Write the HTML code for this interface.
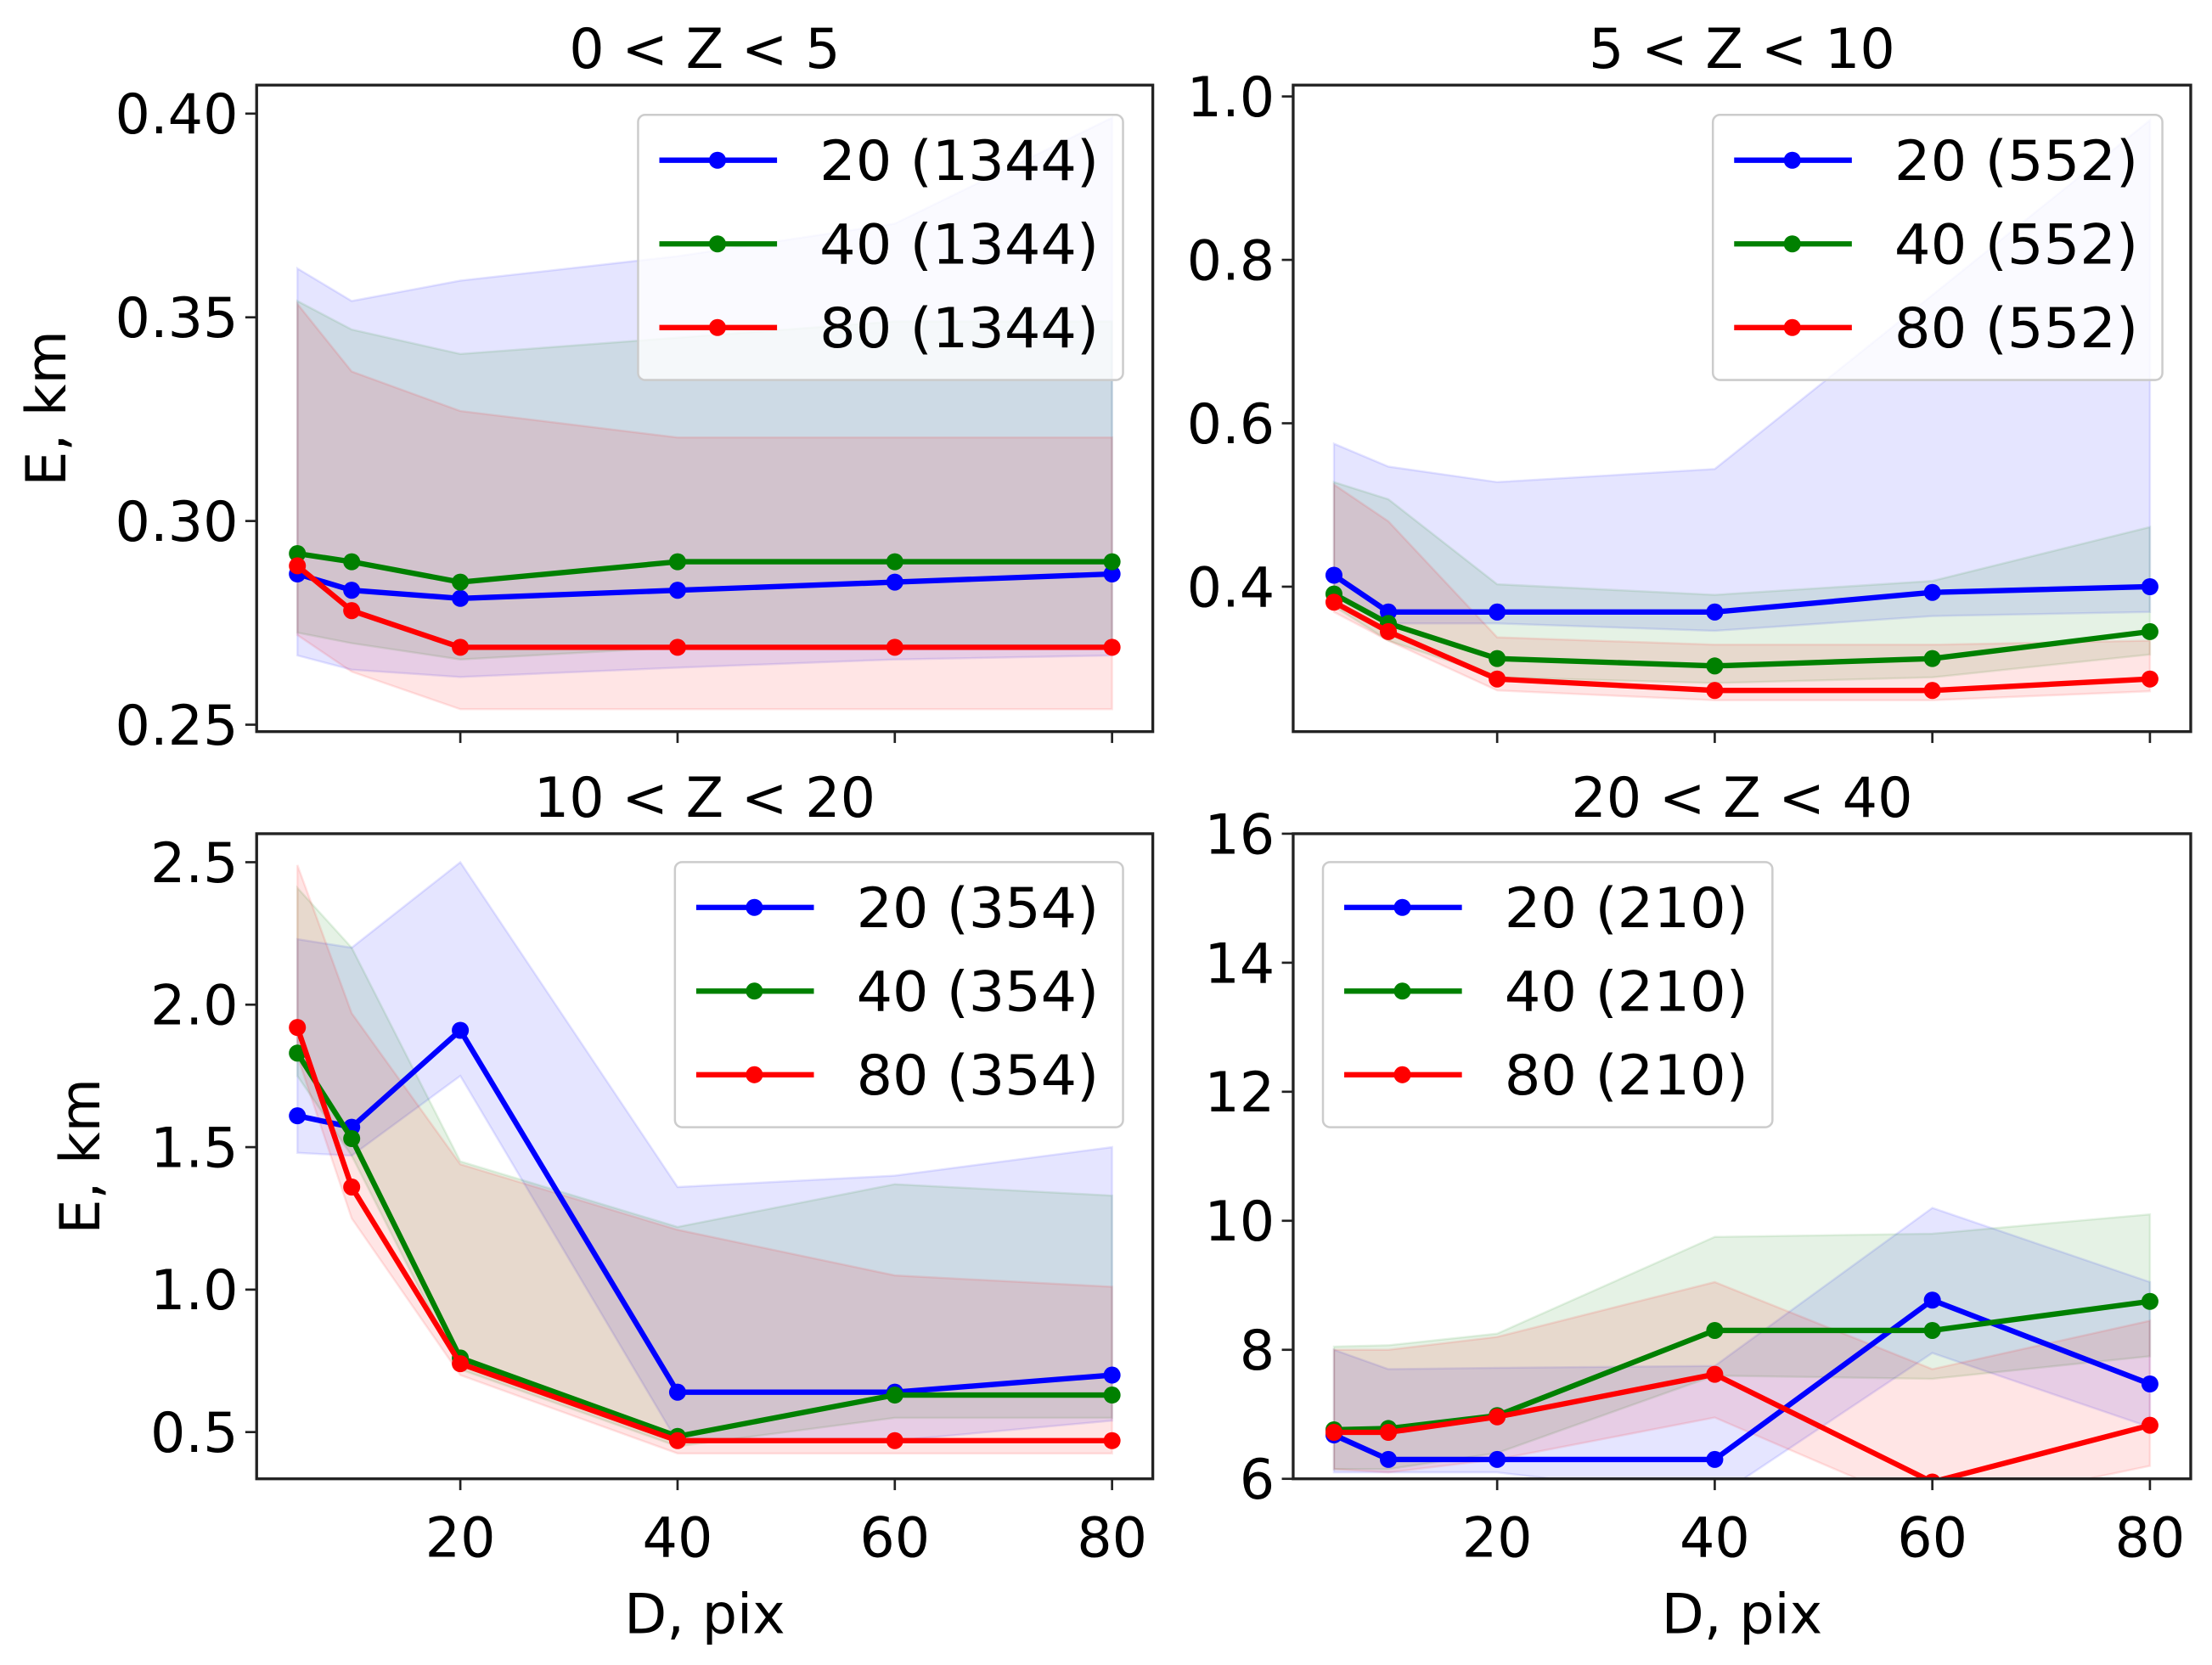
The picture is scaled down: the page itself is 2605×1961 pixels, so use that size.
<!DOCTYPE html>
<html><head><meta charset="utf-8"><style>
html,body{margin:0;padding:0;background:#fff;}
svg{display:block;}
text{font-family:"DejaVu Sans","Liberation Sans",sans-serif;fill:#000;}
</style></head><body>
<svg id="fig" width="2605" height="1961" viewBox="0 0 1560 1174.3" xmlns="http://www.w3.org/2000/svg"></svg>
<script>
const xValues = [5, 10, 20, 40, 60, 80];
const xTicks = [20, 40, 60, 80];
const seriesNames = ["20", "40", "80"];
const seriesColors = ["#0000ff", "#008000", "#ff0000"];

const titles = ["0 < Z < 5", "5 < Z < 10", "10 < Z < 20", "20 < Z < 40"];
const counts = ["1344", "552", "354", "210"];

const yTicksP1 = ["0.25", "0.30", "0.35", "0.40"];
const yTicksP2 = ["0.4", "0.6", "0.8", "1.0"];
const yTicksP3 = ["0.5", "1.0", "1.5", "2.0", "2.5"];
const yTicksP4 = ["6", "8", "10", "12", "14", "16"];

// Panel 1 (0<Z<5)
const p1Blue = [0.287, 0.283, 0.281, 0.283, 0.285, 0.287];
const p1Green = [0.292, 0.290, 0.285, 0.290, 0.290, 0.290];
const p1Red = [0.289, 0.278, 0.269, 0.269, 0.269, 0.269];
const p1BlueHi = [0.362, 0.354, 0.359, 0.365, 0.373, 0.399];
const p1BlueLo = [0.267, 0.2635, 0.2617, 0.264, 0.266, 0.267];
const p1GreenHi = [0.354, 0.347, 0.341, 0.345, 0.349, 0.349];
const p1GreenLo = [0.2726, 0.270, 0.266, 0.269, 0.2695, 0.2695];
const p1RedHi = [0.3533, 0.3367, 0.327, 0.3205, 0.3205, 0.3205];
const p1RedLo = [0.272, 0.263, 0.2538, 0.2538, 0.2538, 0.2538];

// Panel 2 (5<Z<10)
const p2Blue = [0.414, 0.369, 0.369, 0.369, 0.393, 0.400];
const p2Green = [0.391, 0.355, 0.312, 0.303, 0.312, 0.345];
const p2Red = [0.381, 0.345, 0.287, 0.273, 0.273, 0.287];
const p2BlueHi = [0.575, 0.547, 0.528, 0.544, 0.757, 0.971];
const p2BlueLo = [0.390, 0.355, 0.355, 0.346, 0.364, 0.369];
const p2GreenHi = [0.528, 0.507, 0.403, 0.390, 0.407, 0.473];
const p2GreenLo = [0.376, 0.334, 0.289, 0.282, 0.289, 0.317];
const p2RedHi = [0.525, 0.480, 0.338, 0.329, 0.329, 0.334];
const p2RedLo = [0.369, 0.334, 0.273, 0.261, 0.261, 0.272];

// Panel 3 (10<Z<20)
const p3Blue = [1.61, 1.57, 1.91, 0.64, 0.64, 0.70];
const p3Green = [1.83, 1.53, 0.76, 0.485, 0.63, 0.63];
const p3Red = [1.92, 1.36, 0.74, 0.47, 0.47, 0.47];
const p3BlueHi = [2.23, 2.20, 2.50, 1.36, 1.40, 1.50];
const p3BlueLo = [1.48, 1.47, 1.75, 0.465, 0.47, 0.54];
const p3GreenHi = [2.41, 2.20, 1.45, 1.22, 1.37, 1.33];
const p3GreenLo = [1.75, 1.47, 0.72, 0.45, 0.55, 0.55];
const p3RedHi = [2.49, 1.97, 1.44, 1.21, 1.05, 1.01];
const p3RedLo = [1.82, 1.25, 0.70, 0.425, 0.425, 0.425];

// Panel 4 (20<Z<40)
const p4Blue = [6.68, 6.3, 6.3, 6.3, 8.77, 7.47];
const p4Green = [6.76, 6.78, 6.98, 8.3, 8.3, 8.75];
const p4Red = [6.72, 6.72, 6.96, 7.62, 5.95, 6.83];
const p4BlueHi = [8.0, 7.7, 7.72, 7.75, 10.2, 9.05];
const p4BlueLo = [6.1, 6.1, 6.1, 5.7, 7.95, 6.8];
const p4GreenHi = [8.05, 8.07, 8.25, 9.75, 9.8, 10.1];
const p4GreenLo = [6.15, 6.15, 6.4, 7.6, 7.55, 7.9];
const p4RedHi = [8.0, 8.0, 8.2, 9.05, 7.7, 8.45];
const p4RedLo = [6.15, 6.1, 6.3, 6.95, 5.5, 6.2];

const NS = "http://www.w3.org/2000/svg";
const svg = document.getElementById("fig");
function mk(tag, attrs, parent) {
  const e = document.createElementNS(NS, tag);
  for (const k in attrs) e.setAttribute(k, attrs[k]);
  (parent || svg).appendChild(e);
  return e;
}
const FS = 39;

const panels = [
  {box:[181,60,813,516], ylim:[0.2483,0.407], yt:yTicksP1, mid:[p1Blue,p1Green,p1Red], hi:[p1BlueHi,p1GreenHi,p1RedHi], lo:[p1BlueLo,p1GreenLo,p1RedLo], leg:[450,81,792,268], ylab:true, xlab:false},
  {box:[912,60,1545,516], ylim:[0.2226,1.0139], yt:yTicksP2, mid:[p2Blue,p2Green,p2Red], hi:[p2BlueHi,p2GreenHi,p2RedHi], lo:[p2BlueLo,p2GreenLo,p2RedLo], leg:[1208,81,1525,268], ylab:false, xlab:false},
  {box:[181,588,813,1043], ylim:[0.336,2.6], yt:yTicksP3, mid:[p3Blue,p3Green,p3Red], hi:[p3BlueHi,p3GreenHi,p3RedHi], lo:[p3BlueLo,p3GreenLo,p3RedLo], leg:[476,608,792,795], ylab:true, xlab:true},
  {box:[912,588,1545,1043], ylim:[6,16], yt:yTicksP4, mid:[p4Blue,p4Green,p4Red], hi:[p4BlueHi,p4GreenHi,p4RedHi], lo:[p4BlueLo,p4GreenLo,p4RedLo], leg:[933,608,1250,795], ylab:false, xlab:true}
];

panels.forEach((p, pi) => {
  const [x0,y0,x1,y1] = p.box;
  const xs = v => x0 + (v - 1.25) / (83.75 - 1.25) * (x1 - x0);
  const ys = v => y1 - (v - p.ylim[0]) / (p.ylim[1] - p.ylim[0]) * (y1 - y0);
  const g = mk("g", {});
  
  
  const cid = "clip" + pi;
  const cp = mk("clipPath", {id: cid}, g);
  mk("rect", {x:x0, y:y0, width:x1-x0, height:y1-y0}, cp);
  const plot = mk("g", {"clip-path": "url(#" + cid + ")"}, g);
  for (let s = 0; s < 3; s++) {
    let d = "";
    xValues.forEach((xv, i) => { d += (i ? "L" : "M") + xs(xv) + "," + ys(p.hi[s][i]); });
    for (let i = xValues.length - 1; i >= 0; i--) d += "L" + xs(xValues[i]) + "," + ys(p.lo[s][i]);
    d += "Z";
    const band = mk("path", {d: d, fill: seriesColors[s], "fill-opacity": 0.1, stroke: seriesColors[s], "stroke-opacity": 0.1, "stroke-width": 1.5}, plot);
    
    
  }
  for (let s = 0; s < 3; s++) {
    const pts = xValues.map((xv, i) => xs(xv) + "," + ys(p.mid[s][i])).join(" ");
    const line = mk("polyline", {points: pts, fill: "none", stroke: seriesColors[s], "stroke-width": 3.8, "stroke-linejoin": "round"}, plot);
    
    
    xValues.forEach((xv, i) => {
      const c = mk("circle", {cx: xs(xv), cy: ys(p.mid[s][i]), r: 6, fill: seriesColors[s]}, plot);
      
      
    });
  }
  const fr = mk("rect", {x:x0, y:y0, width:x1-x0, height:y1-y0, fill:"none", stroke:"#222", "stroke-width":2}, g);
  
  
  p.yt.forEach(t => {
    const y = ys(parseFloat(t));
    mk("line", {x1:x0-8, y1:y, x2:x0, y2:y, stroke:"#222", "stroke-width":1.6}, g);
    const tx = mk("text", {x:x0-13, y:y+14, "font-size":FS, "text-anchor":"end"}, g);
    tx.textContent = t;
    
    
  });
  xTicks.forEach(t => {
    const x = xs(t);
    mk("line", {x1:x, y1:y1, x2:x, y2:y1+8, stroke:"#222", "stroke-width":1.6}, g);
    if (p.xlab) {
      const tx = mk("text", {x:x, y:y1+55, "font-size":FS, "text-anchor":"middle"}, g);
      tx.textContent = t;
      
      
    }
  });
  const ti = mk("text", {x:(x0+x1)/2, y:y0-12, "font-size":FS, "text-anchor":"middle"}, g);
  ti.textContent = titles[pi];
  
  
  if (p.ylab) {
    const cx = pi === 0 ? 46 : 70, cy = (y0+y1)/2;
    const yl = mk("text", {x:cx, y:cy, "font-size":FS, "text-anchor":"middle", transform:"rotate(-90 "+cx+" "+cy+")"}, g);
    yl.textContent = "E, km";
    
    
  }
  if (p.xlab) {
    const xl = mk("text", {x:(x0+x1)/2, y:1152, "font-size":FS, "text-anchor":"middle"}, g);
    xl.textContent = "D, pix";
    
    
  }
  const [lx0,ly0,lx1,ly1] = p.leg;
  const lg = mk("g", {}, g);
  
  
  mk("rect", {x:lx0, y:ly0, width:lx1-lx0, height:ly1-ly0, rx:5, fill:"#fff", "fill-opacity":0.8, stroke:"#ccc", "stroke-width":1.5}, lg);
  for (let s = 0; s < 3; s++) {
    const ry = ly0 + 32 + s * 59;
    const ent = mk("g", {}, lg);
    
    
    mk("line", {x1:lx0+15, y1:ry, x2:lx0+98, y2:ry, stroke:seriesColors[s], "stroke-width":3.8}, ent);
    mk("circle", {cx:lx0+56, cy:ry, r:6, fill:seriesColors[s]}, ent);
    const lt = mk("text", {x:lx0+128, y:ry+14, "font-size":FS, textLength: (lx1 - lx0 - 145), lengthAdjust:"spacingAndGlyphs"}, ent);
    lt.textContent = seriesNames[s] + " (" + counts[pi] + ")";
  }
});
</script>
</body></html>
